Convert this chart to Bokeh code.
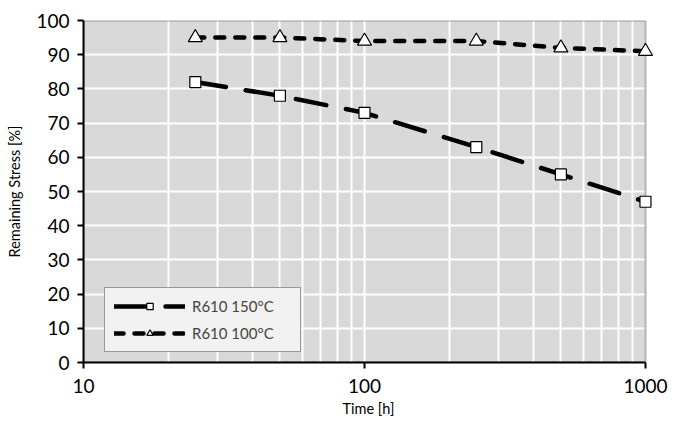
from bokeh.plotting import figure
from bokeh.models import FixedTicker, Legend, LegendItem, Range1d, BoxAnnotation
from bokeh.embed import file_html
from bokeh.resources import INLINE

time_h = [25, 50, 100, 250, 500, 1000]
stress_150 = [82, 78, 73, 63, 55, 47]
stress_100 = [95, 95, 94, 94, 92, 91]
label_150 = "R610 150°C"
label_100 = "R610 100°C"
x_major = [10, 100, 1000]
x_minor = [20, 30, 40, 50, 60, 70, 80, 90, 200, 300, 400, 500, 600, 700, 800, 900]
y_ticks = list(range(0, 101, 10))

FONT = "Lato"
X_LO, X_HI = x_major[0], x_major[-1]
Y_LO, Y_HI = y_ticks[0], y_ticks[-1]

# the frame extends a little past 1000 so the last markers are not clipped
p = figure(width=670, height=424, x_axis_type="log", output_backend="svg",
           toolbar_location=None, x_range=Range1d(X_LO, X_HI * 1.068), y_range=Range1d(Y_LO, Y_HI),
           min_border_left=83, min_border_right=17, min_border_top=20, min_border_bottom=62)
p.background_fill_color = "white"
p.border_fill_color = "white"
p.outline_line_color = None

p.add_layout(BoxAnnotation(left=X_LO, right=X_HI, bottom=Y_LO, top=Y_HI,
                           fill_color="#d9d9d9", fill_alpha=1, line_color=None, level="image"))

p.xaxis.ticker = FixedTicker(ticks=x_major, minor_ticks=x_minor)
p.yaxis.ticker = FixedTicker(ticks=y_ticks)
p.xaxis.major_label_overrides = {10: "10", 100: "100", 1000: "1000"}
p.xaxis.bounds = (X_LO, X_HI)

for ax in (p.xaxis[0], p.yaxis[0]):
    ax.axis_line_color = "black"
    ax.axis_line_width = 2
    ax.major_tick_line_color = "black"
    ax.major_tick_line_width = 2
    ax.major_tick_in = 0
    ax.major_tick_out = 6
    ax.minor_tick_line_color = None
    ax.major_label_text_font = FONT
    ax.major_label_text_font_size = "19px"
    ax.major_label_text_color = "black"
    ax.axis_label_text_font = FONT
    ax.axis_label_text_font_size = "14.5px"
    ax.axis_label_text_font_style = "normal"
    ax.axis_label_text_color = "black"

p.xaxis.axis_label = "Time [h]"
p.yaxis.axis_label = "Remaining Stress [%]"
p.xaxis.major_label_standoff = 10
p.yaxis.major_label_standoff = 8
p.xaxis.axis_label_standoff = 4
p.yaxis.axis_label_standoff = 10

p.xgrid.grid_line_color = "white"
p.xgrid.grid_line_width = 2
p.xgrid.minor_grid_line_color = "white"
p.xgrid.minor_grid_line_width = 2
p.ygrid.grid_line_color = "white"
p.ygrid.grid_line_width = 2

# plot-area border, drawn after the grids but beneath the data
p.add_layout(BoxAnnotation(left=X_LO, right=X_HI, bottom=Y_LO, top=Y_HI,
                           fill_color=None, fill_alpha=0, line_color="black", line_width=2,
                           level="underlay"))

l1 = p.line(time_h, stress_150, line_color="black", line_width=4.5, line_dash="31 20",
            line_cap="round")
m1 = p.scatter(time_h, stress_150, marker="square", size=11, fill_color="white",
               line_color="black", line_width=1.2)
l2 = p.line(time_h, stress_100, line_color="black", line_width=4.5, line_dash="9 11",
            line_cap="round")
m2 = p.scatter(time_h, stress_100, marker="triangle", size=14, fill_color="white",
               line_color="black", line_width=1.2)

legend = Legend(items=[LegendItem(label=label_150, renderers=[l1, m1]),
                       LegendItem(label=label_100, renderers=[l2, m2])],
                location=(21, 10), background_fill_color="#f2f2f2", background_fill_alpha=1,
                border_line_color="#404040", border_line_width=1,
                label_text_font=FONT, label_text_font_size="15px",
                glyph_width=71, glyph_height=16, label_standoff=7,
                padding=9, margin=0, spacing=9,
                label_width=99)
p.add_layout(legend, "center")

open("out.html", "w").write(file_html(p, INLINE))
